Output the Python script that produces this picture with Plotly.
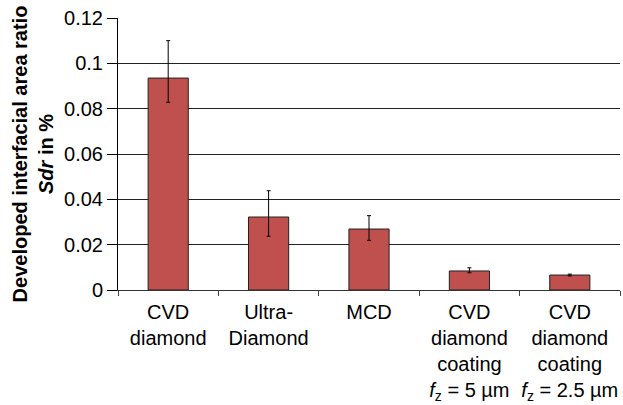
import plotly.graph_objects as go

categories = [
    "CVD<br>diamond",
    "Ultra-<br>Diamond",
    "MCD",
    "CVD<br>diamond<br>coating<br><i>f</i><sub>z</sub> = 5 µm",
    "CVD<br>diamond<br>coating<br><i>f</i><sub>z</sub> = 2.5 µm",
]
sdr_values = [0.0935, 0.0322, 0.0269, 0.0084, 0.0066]
err_plus = [0.0165, 0.0116, 0.0059, 0.0014, 0.0004]
err_minus = [0.0107, 0.0085, 0.0050, 0.0008, 0.0004]
y_ticks = [0, 0.02, 0.04, 0.06, 0.08, 0.1, 0.12]
y_tick_labels = ["0", "0.02", "0.04", "0.06", "0.08", "0.1", "0.12"]

font_family = "Liberation Sans, Arial, sans-serif"

fig = go.Figure()
fig.add_trace(go.Bar(
    x=categories,
    y=sdr_values,
    width=0.4,
    marker=dict(color="#C0504D", line=dict(color="#222222", width=1)),
    error_y=dict(type="data", symmetric=False, array=err_plus, arrayminus=err_minus,
                 color="black", thickness=1, width=2),
))

fig.update_layout(
    width=623, height=405,
    margin=dict(l=118, r=3, t=18, b=115),
    plot_bgcolor="white", paper_bgcolor="white",
    showlegend=False,
    font=dict(family=font_family, size=20, color="black"),
    bargap=0.6,
)
fig.update_xaxes(
    automargin=False, tickangle=0,
    showline=True, linecolor="#333333", linewidth=1,
    ticks="outside", ticklen=5, tickcolor="#444444", tickson="boundaries",
    tickfont=dict(size=20), showgrid=False, ticklabelstandoff=4,
)
fig.update_yaxes(
    automargin=False,
    range=[0, 0.12], tickvals=y_ticks, ticktext=y_tick_labels,
    showline=True, linecolor="black", linewidth=1,
    ticks="outside", ticklen=10, tickcolor="black",
    showgrid=True, gridcolor="#222222", gridwidth=1,
    tickfont=dict(size=20),
    zeroline=False,
    title=dict(text="<b>Developed interfacial area ratio<br><i>Sdr</i> in %</b>",
               font=dict(size=20), standoff=5),
)
fig.write_html("out.html",
               config={"displayModeBar": False},
               post_script="document.body.style.margin='0';document.body.style.overflow='hidden';")
